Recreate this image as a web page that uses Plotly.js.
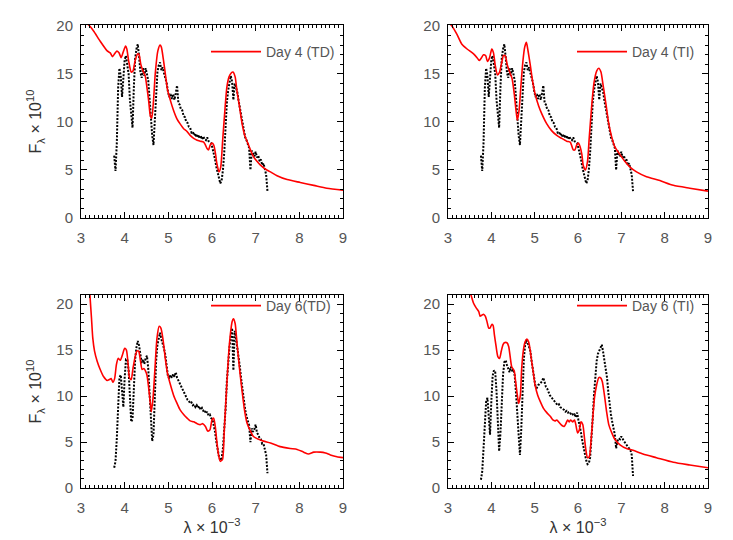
<!DOCTYPE html>
<html>
<head>
<meta charset="utf-8">
<script src="https://cdn.plot.ly/plotly-3.0.1.min.js"></script>
<style>html,body{margin:0;padding:0;background:#fff;}#chart{width:733px;height:540px;}</style>
</head>
<body>
<div id="chart"></div>
<script>
// Observed spectra (shared wavelength grid, units of 10^3)
const obsX = [
3.76,3.79,3.82,3.85,3.88,3.91,3.94,3.97,4.00,4.03,
4.06,4.09,4.12,4.15,4.18,4.21,4.24,4.27,4.30,4.33,
4.36,4.39,4.42,4.45,4.48,4.51,4.54,4.57,4.60,4.63,
4.66,4.69,4.72,4.75,4.78,4.81,4.84,4.87,4.90,4.93,
4.96,4.99,5.02,5.05,5.08,5.11,5.14,5.17,5.20,5.23,
5.26,5.29,5.32,5.35,5.38,5.41,5.44,5.47,5.50,5.53,
5.56,5.59,5.62,5.65,5.68,5.71,5.74,5.77,5.80,5.83,
5.86,5.89,5.92,5.95,5.98,6.01,6.04,6.07,6.10,6.13,
6.16,6.19,6.22,6.25,6.28,6.31,6.34,6.37,6.40,6.43,
6.46,6.49,6.52,6.55,6.58,6.61,6.64,6.67,6.70,6.73,
6.76,6.79,6.82,6.85,6.88,6.91,6.94,6.97,7.00,7.03,
7.06,7.09,7.12,7.15,7.18,7.21,7.24,7.27];

const obsDay4 = [
6.5,4.9,7.8,13.5,15.6,14.8,12.6,14.2,16.5,16.9,
16.0,15.0,12.3,10.5,9.4,13.6,16.6,17.6,18.1,16.8,
15.2,14.6,15.6,14.8,15.6,15.0,14.3,12.5,10.2,8.6,
7.6,10.2,13.2,15.2,15.9,16.2,15.4,15.7,15.1,14.6,
14.1,13.2,12.6,12.9,12.4,12.9,12.3,13.0,13.8,12.0,
11.8,11.3,11.2,10.6,10.5,10.0,9.9,9.5,9.4,8.9,
9.0,8.6,8.8,8.4,8.7,8.3,8.6,8.2,8.5,8.2,
8.1,8.4,8.0,7.9,7.8,7.3,6.8,6.1,5.3,4.6,
4.1,3.6,3.9,5.0,6.8,9.8,12.0,13.3,14.3,14.8,
14.2,12.3,14.0,13.6,13.1,12.2,11.4,10.6,9.8,9.1,
8.4,8.1,7.6,7.3,5.0,7.0,6.8,6.4,6.9,6.3,
6.5,5.9,6.1,5.5,5.7,5.0,4.5,2.8];

const obsDay6TD = [
2.2,2.9,5.4,8.5,12.0,12.3,10.5,8.8,12.0,14.0,
14.0,12.8,10.0,7.2,7.5,10.8,14.0,15.3,16.0,15.5,
14.4,13.6,14.0,13.5,14.1,14.4,13.0,10.1,7.2,5.1,
5.8,10.5,13.8,15.6,16.3,16.9,16.2,15.8,15.2,14.5,
13.3,12.2,11.9,12.3,12.0,12.4,12.1,12.6,12.0,11.7,
11.4,11.1,10.8,10.5,10.2,10.0,9.6,9.5,9.2,9.3,
9.0,9.1,8.8,9.0,8.7,8.9,8.5,8.7,8.4,8.5,
8.1,8.3,7.9,8.0,7.6,7.5,6.9,6.1,5.0,4.1,
3.4,3.0,3.2,4.3,6.0,8.5,11.6,13.7,15.3,16.5,
17.4,12.8,17.1,16.3,15.4,14.5,13.1,11.8,10.5,9.4,
8.5,7.8,7.2,6.8,5.0,6.5,6.1,6.4,6.9,6.0,
5.8,5.4,5.3,4.8,4.8,4.2,3.6,1.6];

const obsDay6TI = [
0.9,1.8,4.3,7.2,9.4,9.8,8.0,5.8,9.4,12.2,
12.8,12.6,10.5,7.5,4.0,5.9,9.2,12.3,13.7,13.9,
13.4,12.9,12.6,13.2,12.8,12.9,12.2,10.3,7.8,5.0,
3.6,6.3,11.0,14.0,15.6,16.1,15.8,15.4,14.9,13.8,
12.8,11.7,11.0,10.9,11.2,11.3,11.5,11.6,12.0,11.3,
11.0,10.8,10.4,10.1,9.9,9.7,9.5,9.4,9.2,9.0,
9.1,8.8,8.7,8.6,8.5,8.3,8.4,8.2,8.3,8.1,
8.2,7.9,8.0,7.7,8.2,7.4,6.8,6.0,5.1,4.3,
3.6,3.0,2.6,2.7,3.3,5.0,7.6,10.2,12.4,13.8,
14.6,14.9,15.2,15.6,14.8,13.9,13.0,12.0,10.4,9.0,
8.0,7.2,6.5,5.8,4.3,5.1,5.4,5.3,5.6,5.3,
5.1,4.9,4.7,4.4,4.3,4.1,3.6,1.3];

// Model spectra
const modD4TDx = [3.0,3.1,3.2,3.3,3.44,3.6,3.67,3.72,3.77,3.82,3.87,3.92,3.96,4.02,4.05,4.09,4.15,4.19,4.24,4.3,4.33,4.37,4.42,4.47,4.51,4.55,4.59,4.62,4.66,4.70,4.76,4.81,4.84,4.89,4.94,4.98,5.05,5.12,5.2,5.27,5.35,5.43,5.5,5.58,5.66,5.73,5.81,5.85,5.89,5.92,5.96,6.0,6.04,6.08,6.11,6.16,6.2,6.24,6.29,6.34,6.39,6.44,6.48,6.53,6.57,6.63,6.69,6.75,6.82,6.88,6.95,7.03,7.11,7.22,7.34,7.49,7.72,8.02,8.33,8.63,9.0];
const modD4TDy = [20.8,20.4,20.0,19.4,18.4,17.4,17.2,16.8,17.1,17.4,17.2,16.7,17.2,17.9,17.6,16.4,15.2,15.3,16.4,17.1,17.0,16.0,15.3,14.8,13.6,12.2,10.6,10.4,12.2,15.0,17.4,18.0,17.8,16.4,14.7,13.4,12.2,11.2,10.3,9.8,9.3,9.0,8.6,8.3,8.1,8.0,7.9,7.6,7.2,7.1,7.6,7.8,7.6,6.7,5.7,4.8,5.3,7.8,10.9,13.6,14.7,15.1,15.2,14.7,13.3,11.6,9.8,8.6,7.8,7.1,6.4,5.9,5.5,5.1,4.8,4.4,4.0,3.7,3.4,3.1,2.9];

const modD4TIx = [3.0,3.09,3.21,3.32,3.44,3.59,3.67,3.72,3.76,3.82,3.87,3.91,3.96,4.01,4.05,4.09,4.14,4.19,4.24,4.28,4.32,4.37,4.44,4.48,4.53,4.57,4.60,4.64,4.68,4.73,4.77,4.81,4.84,4.90,4.95,5.01,5.09,5.16,5.28,5.39,5.51,5.62,5.74,5.82,5.85,5.89,5.93,5.97,6.01,6.05,6.09,6.12,6.17,6.22,6.26,6.32,6.37,6.43,6.48,6.53,6.58,6.65,6.71,6.78,6.85,6.97,7.08,7.2,7.35,7.58,7.89,8.2,8.58,9.0];
const modD4TIy = [20.4,20.0,19.1,18.1,17.6,17.1,16.7,16.4,16.6,17.0,16.9,16.3,16.7,17.6,17.2,15.9,14.9,15.2,16.2,16.9,16.9,15.9,15.0,14.5,12.9,11.2,10.2,11.2,13.6,16.4,17.8,18.3,17.6,15.9,14.3,12.9,11.7,10.9,9.8,9.1,8.6,8.3,8.0,7.9,7.6,7.1,7.1,7.6,7.8,7.4,6.6,5.5,5.0,5.9,8.4,11.9,14.1,15.3,15.6,15.2,13.8,11.7,9.8,8.4,7.4,6.6,5.9,5.3,4.8,4.3,3.9,3.4,3.1,2.8];

const modD6TDx = [3.2,3.24,3.27,3.31,3.37,3.44,3.52,3.6,3.65,3.69,3.73,3.77,3.81,3.85,3.9,3.95,4.0,4.04,4.08,4.11,4.15,4.19,4.24,4.28,4.32,4.36,4.4,4.44,4.47,4.51,4.55,4.59,4.61,4.65,4.69,4.74,4.79,4.83,4.88,4.93,4.98,5.05,5.12,5.2,5.27,5.35,5.43,5.5,5.58,5.66,5.73,5.79,5.85,5.9,5.95,6.0,6.04,6.08,6.11,6.15,6.19,6.24,6.28,6.33,6.38,6.42,6.46,6.49,6.53,6.57,6.63,6.69,6.75,6.8,6.88,6.95,7.07,7.18,7.34,7.56,7.79,7.95,8.1,8.21,8.33,8.48,8.6,8.71,8.86,9.0];
const modD6TDy = [21.3,18.5,16.3,14.9,13.8,12.9,12.1,11.7,11.8,11.9,11.5,11.9,13.4,14.1,13.9,14.5,15.2,15.0,13.4,12.0,11.8,13.0,14.3,14.9,14.9,13.9,12.9,13.0,12.8,12.3,10.9,9.1,8.3,9.8,12.7,16.3,17.6,17.4,16.1,14.1,12.5,11.2,10.1,9.2,8.5,8.0,7.6,7.3,7.2,7.0,6.9,7.0,6.7,6.2,6.3,7.4,7.6,6.5,5.1,3.6,2.9,3.1,6.2,10.5,14.5,16.7,18.1,18.4,17.9,15.9,13.0,10.5,8.3,7.1,6.2,5.6,5.3,5.1,4.9,4.5,4.3,4.2,3.9,3.7,3.9,3.9,3.8,3.6,3.4,3.3];

const modD6TIx = [3.50,3.53,3.59,3.65,3.71,3.74,3.78,3.82,3.86,3.9,3.94,3.97,4.01,4.04,4.07,4.11,4.15,4.19,4.23,4.27,4.3,4.36,4.4,4.44,4.47,4.51,4.53,4.56,4.6,4.63,4.67,4.7,4.74,4.78,4.82,4.86,4.9,4.93,4.97,5.01,5.07,5.13,5.2,5.28,5.36,5.42,5.47,5.51,5.57,5.63,5.68,5.72,5.76,5.8,5.83,5.88,5.92,5.95,5.99,6.03,6.07,6.11,6.15,6.18,6.22,6.26,6.3,6.34,6.38,6.43,6.48,6.52,6.56,6.61,6.66,6.71,6.78,6.85,6.97,7.12,7.27,7.5,7.81,8.2,8.58,9.0];
const modD6TIy = [21.3,21.0,20.1,19.6,19.2,18.7,18.8,18.9,18.7,18.1,17.4,17.4,17.8,17.7,16.7,15.4,14.3,14.1,14.9,15.6,15.8,15.8,15.4,14.1,13.2,12.9,12.7,11.6,10.1,9.2,10.1,13.0,15.0,15.9,16.2,15.9,14.9,13.8,12.5,11.2,10.1,9.4,8.7,8.2,7.8,7.4,7.3,7.4,7.1,6.8,6.7,7.0,7.4,7.2,7.4,7.2,7.4,6.9,6.0,6.3,7.2,6.9,5.4,4.2,3.3,3.4,5.1,7.6,9.8,11.2,12.0,12.0,11.6,10.1,8.3,6.9,6.0,5.3,4.7,4.3,4.1,3.7,3.3,2.8,2.5,2.2];

const legendNames = ['Day 4 (TD)', 'Day 4 (TI)', 'Day 6(TD)', 'Day 6 (TI)'];
const xTickVals = [3,4,5,6,7,8,9];
const yTickVals = [0,5,10,15,20];

const panels = [
  {obs: obsDay4, mx: modD4TDx, my: modD4TDy},
  {obs: obsDay4, mx: modD4TIx, my: modD4TIy},
  {obs: obsDay6TD, mx: modD6TDx, my: modD6TDy},
  {obs: obsDay6TI, mx: modD6TIx, my: modD6TIy}
];

const traces = [];
panels.forEach((p, i) => {
  const n = i === 0 ? '' : String(i + 1);
  traces.push({
    x: obsX, y: p.obs, xaxis: 'x' + n, yaxis: 'y' + n, type: 'scatter', mode: 'lines',
    line: {color: '#000', width: 2, dash: '2px,1.5px'}, showlegend: false, hoverinfo: 'skip'
  });
  traces.push({
    x: p.mx, y: p.my, xaxis: 'x' + n, yaxis: 'y' + n, type: 'scatter', mode: 'lines',
    line: {color: '#ff0000', width: 1.6, shape: 'spline', smoothing: 0.6},
    name: legendNames[i], legend: i === 0 ? 'legend' : 'legend' + (i + 1), showlegend: true
  });
});

const W = 733, H = 540;
const boxes = [
  {x0: 81, x1: 343, y0: 25, y1: 218, yr: [0, 20.1]},
  {x0: 448, x1: 708, y0: 25, y1: 218, yr: [0, 20.1]},
  {x0: 81, x1: 343, y0: 295, y1: 488, yr: [0, 21]},
  {x0: 448, x1: 708, y0: 295, y1: 488, yr: [0, 21]}
];
const tickFont = {family: 'Liberation Sans', size: 15, color: '#555'};
const layout = {
  width: W, height: H, margin: {l: 0, r: 0, t: 0, b: 0},
  paper_bgcolor: '#fff', plot_bgcolor: '#fff', showlegend: true
};
const legPos = [
  {x: 206, y: 52}, {x: 572, y: 52}, {x: 206, y: 306}, {x: 572, y: 306}
];
boxes.forEach((b, i) => {
  const n = i === 0 ? '' : String(i + 1);
  const bottom = i >= 2, left = (i % 2 === 0);
  layout['xaxis' + n] = {
    domain: [b.x0 / W, b.x1 / W], anchor: 'y' + n, range: [3, 9],
    tickvals: xTickVals, ticks: 'inside', ticklen: 6, tickwidth: 1, tickcolor: '#000',
    minor: {dtick: 0.1, ticks: 'inside', ticklen: 3, tickcolor: '#000', showgrid: false},
    showline: true, linecolor: '#000', linewidth: 1, mirror: 'allticks',
    showgrid: false, zeroline: false, tickfont: tickFont, ticklabelstandoff: 6,
    title: bottom ? {text: 'λ × 10<sup>−3</sup>', font: {family: 'Liberation Sans', size: 16, color: '#333'}, standoff: 4} : {text: ''}
  };
  layout['yaxis' + n] = {
    domain: [1 - b.y1 / H, 1 - b.y0 / H], anchor: 'x' + n, range: b.yr,
    tickvals: yTickVals, ticks: 'inside', ticklen: 6, tickwidth: 1, tickcolor: '#000',
    minor: {dtick: 1, ticks: 'inside', ticklen: 3, tickcolor: '#000', showgrid: false},
    showline: true, linecolor: '#000', linewidth: 1, mirror: 'allticks',
    showgrid: false, zeroline: false, tickfont: tickFont, ticklabelstandoff: 4,
    title: left ? {text: 'F<sub>λ</sub> × 10<sup>10</sup>', font: {family: 'Liberation Sans', size: 16, color: '#333'}, standoff: 10} : {text: ''}
  };
  const lg = i === 0 ? 'legend' : 'legend' + (i + 1);
  layout[lg] = {
    x: legPos[i].x / W, y: 1 - legPos[i].y / H, xanchor: 'left', yanchor: 'middle',
    bgcolor: 'rgba(0,0,0,0)', borderwidth: 0, itemwidth: 50,
    font: {family: 'Liberation Sans', size: 14, color: '#555'}
  };
});

Plotly.newPlot('chart', traces, layout, {displayModeBar: false, staticPlot: true});
</script>
</body>
</html>
